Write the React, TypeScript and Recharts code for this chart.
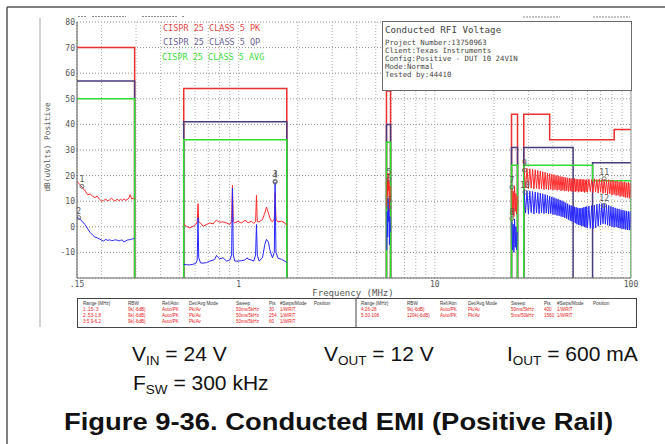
import React from "react";
import { CartesianGrid, ComposedChart, Line, Scatter, XAxis, YAxis } from "recharts";

const MONO = "'DejaVu Sans Mono', monospace";
const SANS = "'Liberation Sans', Arial, sans-serif";

// axis ticks
const freqTicks = [0.15, 0.2, 0.3, 0.4, 0.5, 0.6, 0.7, 0.8, 0.9, 1, 2, 3, 4, 5, 6, 7, 8, 9, 10, 20, 30, 40, 50, 60, 70, 80, 90, 100];
const labelledFreqs = [0.15, 1, 10, 100];
const freqTickLabels = [".15", "1", "10", "100"];
const levelTicks = [-20, -10, 0, 10, 20, 30, 40, 50, 60, 70, 80];

// CISPR 25 class 5 limit lines, one list of [MHz, dBuV] per band
const pkLimit = [
  [[0.15, 70], [0.295, 70], [0.295, -20]],
  [[0.525, -20], [0.525, 54], [1.76, 54], [1.76, -20]],
  [[5.67, -20], [5.67, 53], [5.95, 53], [5.95, -20]],
  [[24.6, -20], [24.6, 44], [26.4, 44], [26.4, -20]],
  [[28.4, -20], [28.4, 44], [38.5, 44], [38.5, 34], [82.1, 34], [82.1, 38], [100, 38]],
];
const qpLimit = [
  [[0.15, 57], [0.295, 57], [0.295, -20]],
  [[0.525, -20], [0.525, 41], [1.76, 41], [1.76, -20]],
  [[5.67, -20], [5.67, 40], [5.95, 40], [5.95, -20]],
  [[24.6, -20], [24.6, 31], [26.4, 31], [26.4, -20]],
  [[28.4, -20], [28.4, 31], [50.7, 31], [50.7, -20]],
  [[63.7, -20], [63.7, 25], [100, 25]],
];
const avgLimit = [
  [[0.15, 50], [0.295, 50], [0.295, -20]],
  [[0.525, -20], [0.525, 34], [1.76, 34], [1.76, -20]],
  [[5.67, -20], [5.67, 33], [5.95, 33], [5.95, -20]],
  [[24.6, -20], [24.6, 24], [26.4, 24], [26.4, -20]],
  [[28.4, -20], [28.4, 24], [63.7, 24], [63.7, 18], [100, 18], [100, -20]],
];

// measured traces (peak = red, average = blue)
const band1Freq = [0.15, 0.155, 0.16, 0.165, 0.17, 0.175, 0.18, 0.185, 0.19, 0.195, 0.2, 0.205, 0.21, 0.215, 0.22, 0.225, 0.23, 0.235, 0.24, 0.245, 0.25, 0.255, 0.26, 0.265, 0.27, 0.275, 0.28, 0.285, 0.29, 0.295];
const band1Pk = [17.7, 16.5, 15.3, 14.0, 12.5, 12.8, 12.0, 11.4, 12.0, 10.8, 10.0, 10.3, 10.8, 10.2, 10.5, 11.2, 10.4, 10.1, 10.8, 10.2, 10.7, 10.3, 10.9, 10.4, 10.6, 11.1, 12.6, 10.8, 11.2, 11.0];
const band1Avg = [3.8, 3.0, 2.0, 0.8, -0.8, -2.2, -3.2, -4.0, -4.3, -4.7, -5.2, -5.6, -4.9, -5.3, -5.1, -5.4, -5.3, -5.1, -5.2, -5.5, -5.3, -5.1, -5.9, -5.6, -5.2, -5.1, -5.0, -4.8, -4.7, -4.5];

const band2Freq = [0.525, 0.542, 0.563, 0.586, 0.604, 0.615, 0.621, 0.626, 0.639, 0.659, 0.686, 0.713, 0.741, 0.756, 0.771, 0.783, 0.801, 0.833, 0.867, 0.901, 0.921, 0.93, 0.939, 0.956, 0.993, 1.034, 1.075, 1.104, 1.117, 1.163, 1.194, 1.22, 1.233, 1.245, 1.271, 1.323, 1.359, 1.386, 1.419, 1.441, 1.47, 1.488, 1.52, 1.534, 1.55, 1.589, 1.653, 1.719, 1.76];
const band2Pk = [1.1, 0.2, -0.4, 0.2, 0.9, 2.0, 9.0, 2.0, 1.5, 0.2, 0.9, 1.5, 1.1, 2.0, 2.5, 2.2, 1.8, 1.9, 1.5, 0.9, 2.0, 16.2, 2.0, 1.5, 2.2, 1.5, 2.5, 2.0, 1.5, 2.2, 1.3, 2.0, 12.3, 2.0, 1.9, 2.8, 5.4, 7.7, 5.4, 3.5, 2.2, 2.0, 3.0, 13.3, 3.0, 1.9, 2.2, 1.5, 0.6];
const band2Avg = [-14.7, -14.8, -14.9, -14.6, -14.4, -13.0, 3.5, -12.0, -14.1, -14.2, -14.0, -13.4, -13.0, -12.7, -11.2, -11.8, -12.5, -12.1, -13.4, -13.0, -11.0, 15.1, -11.0, -13.4, -13.4, -13.2, -13.0, -12.1, -12.6, -13.0, -13.4, -11.0, 0.9, -11.0, -13.4, -12.1, -7.0, -4.9, -6.0, -8.8, -11.0, -12.1, -10.0, 17.4, -10.0, -12.3, -12.7, -13.4, -14.0];

const band3Freq = [5.69, 5.72, 5.75, 5.78, 5.81, 5.84, 5.87, 5.9, 5.93];
const band3Pk = [8, 19, 12, 21, 14, 18, 6, 16, 10];
const band3Avg = [-9, 6, -4, 11, 2, 7, -7, 4, -2];

const band4Freq = [24.7, 24.9, 25.1, 25.3, 25.5, 25.7, 25.9, 26.1, 26.3];
const band4Pk = [15, 5, 14, 4, 16, 6, 13, 5, 12];
const band4Avg = [2, -9, 1, -10, 3, -8, 0, -9, -2];

const band5Freq = [
  28.5, 29, 29.5, 30, 30.5, 31, 31.5, 32, 32.5, 33, 33.5, 34, 34.5, 35, 35.5, 36, 36.5, 37, 37.5, 38, 38.5, 39, 39.5, 40,
  40.5, 41, 41.5, 42, 42.5, 43, 43.5, 44, 44.5, 45, 45.5, 46, 46.5, 47, 47.5, 48, 48.5, 49, 49.5, 50, 50.5, 51, 51.5, 52,
  52.5, 53, 53.5, 54, 54.5, 55, 55.5, 56, 56.5, 57, 57.5, 58, 58.5, 59, 59.5, 60,
  61, 62, 63, 64, 65, 66, 67, 68, 69, 70, 71, 72, 73, 74, 75, 76, 77, 78, 79, 80,
  81, 82, 83, 84, 85, 86, 87, 88, 89, 90, 91, 92, 93, 94, 95, 96, 97, 98, 99, 100,
];
const band5Pk = [
  23.0, 15.2, 22.9, 14.9, 22.7, 15.1, 22.5, 14.8, 22.3, 15.0, 22.0, 14.7, 21.8, 14.9, 21.5, 14.5, 21.3, 14.8, 21.0, 14.4, 20.8, 14.6, 20.5, 14.3,
  20.4, 14.5, 20.1, 14.2, 20.0, 14.4, 19.7, 14.0, 19.6, 14.3, 19.4, 13.9, 19.3, 14.1, 19.1, 13.8, 19.0, 14.0, 18.9, 13.7, 18.8, 13.9, 18.9, 13.6,
  18.7, 13.9, 18.6, 13.5, 18.5, 13.8, 18.7, 13.6, 18.4, 13.8, 18.6, 13.4, 18.3, 13.7, 18.5, 13.5,
  18.6, 13.8, 18.4, 13.4, 18.8, 13.7, 18.5, 13.2, 18.7, 13.5, 18.4, 13.0, 18.6, 13.3, 18.2, 12.8, 18.4, 12.9, 18.0, 12.4,
  18.2, 12.6, 17.8, 12.2, 18.0, 12.3, 17.6, 11.8, 17.8, 12.0, 17.4, 11.6, 17.6, 11.4, 17.2, 11.5, 17.4, 11.1, 17.0, 11.2,
];
const band5Avg = [
  14.2, 5.4, 14.1, 5.1, 14.0, 5.5, 13.8, 5.0, 13.6, 5.4, 13.4, 5.1, 13.2, 5.5, 12.9, 5.2, 12.6, 5.4, 12.3, 5.0, 12.0, 5.2, 11.7, 4.8,
  11.4, 4.7, 11.1, 4.4, 10.8, 4.3, 10.5, 4.0, 10.2, 3.8, 9.8, 3.5, 9.4, 3.2, 9.0, 2.8, 8.6, 2.4, 8.3, 2.1, 8.0, 1.8, 7.8, 1.4,
  7.6, 1.0, 7.4, 0.8, 7.2, 0.6, 7.3, 0.4, 7.4, 0.2, 7.6, 0.0, 7.8, -0.3, 7.9, -0.5,
  8.1, -0.6, 8.3, -0.7, 8.5, -0.4, 8.8, 0.2, 9.0, 0.8, 9.1, 1.2, 9.0, 1.0, 8.7, 0.6, 8.4, 0.3, 8.0, 0.0,
  7.7, -0.2, 7.4, -0.1, 7.1, -0.4, 6.9, -0.6, 6.7, -0.8, 6.5, -0.9, 6.3, -1.1, 6.1, -1.2, 6.0, -1.3, 5.9, -1.4,
];

// numbered markers
const markerLabels = ["1", "2", "3", "4", "5", "6", "7", "8", "9", "10", "11", "12"];
const markerFreq = [0.159, 0.153, 1.534, 1.534, 5.83, 5.83, 24.7, 24.7, 28.6, 28.8, 73, 73];
const markerLevel = [15.8, 3.6, 17.8, 17.4, 18.6, 7.7, 15.5, 3.2, 22.1, 13.6, 18.8, 8.4];

const tableHeader = ["Range (MHz)", "RBW", "Ref/Attn", "Det/Avg Mode", "Sweep", "Pts", "#Swps/Mode", "Position"];
const tableLeftRows = [
  ["1:.15-.3", "9k(-6dB)", "Auto/PK", "Pk/Av", "50ms/5kHz", "30", "1/WRIT"],
  ["2:.53-1.8", "9k(-6dB)", "Auto/PK", "Pk/Av", "50ms/5kHz", "254", "1/WRIT"],
  ["3:5.9-6.2", "9k(-6dB)", "Auto/PK", "Pk/Av", "50ms/5kHz", "60", "1/WRIT"],
];
const tableRightRows = [
  ["4:26-28", "9k(-6dB)", "Auto/PK", "Pk/Av", "50ms/5kHz", "400", "1/WRIT"],
  ["5:30-108", "120k(-6dB)", "Auto/PK", "Pk/Av", "5ms/50kHz", "1560", "1/WRIT"],
];
const leftCols = [83, 128, 162, 189, 236, 269, 280, 314];
const rightCols = [361, 407, 440, 468, 511, 544, 557, 593];

type Pt = { f: number; v: number | null };

function segmentsToSeries(segments: number[][][]): Pt[] {
  const out: Pt[] = [];
  segments.forEach((seg, i) => {
    if (i > 0) {
      const prev = segments[i - 1][segments[i - 1].length - 1][0];
      out.push({ f: Math.sqrt(prev * seg[0][0]), v: null });
    }
    seg.forEach(([f, v]) => out.push({ f, v }));
  });
  return out;
}

function bandsToSeries(freqs: number[][], values: number[][]): Pt[] {
  return segmentsToSeries(freqs.map((fs, i) => fs.map((f, j) => [f, values[i][j]])));
}

const allFreqs = [band1Freq, band2Freq, band3Freq, band4Freq, band5Freq];
const pkTrace = bandsToSeries(allFreqs, [band1Pk, band2Pk, band3Pk, band4Pk, band5Pk]);
const avgTrace = bandsToSeries(allFreqs, [band1Avg, band2Avg, band3Avg, band4Avg, band5Avg]);
const markers = markerLabels.map((label, i) => ({ f: markerFreq[i], v: markerLevel[i], label }));

const XTick = (props: any) => {
  const { x, y, payload } = props;
  const idx = labelledFreqs.indexOf(payload.value);
  if (idx < 0) return <g />;
  return (
    <text x={x} y={y + 9} textAnchor="middle" fontFamily={MONO} fontSize={8} fill="#555">
      {freqTickLabels[idx]}
    </text>
  );
};

const YTick = (props: any) => {
  const { x, y, payload } = props;
  if (payload.value === -20) return <g />;
  return (
    <text x={x - 2} y={y + 3} textAnchor="end" fontFamily={MONO} fontSize={8} fill="#555">
      {payload.value}
    </text>
  );
};

const MarkerShape = (props: any) => {
  const { cx, cy, payload } = props;
  return (
    <g>
      <circle cx={cx} cy={cy} r={2} fill="none" stroke="#666" strokeWidth={0.9} />
      <text x={cx} y={cy - 4} textAnchor="middle" fontFamily={MONO} fontSize={8} fill="#555">
        {payload.label}
      </text>
    </g>
  );
};

function Overlay() {
  return (
    <svg width={665} height={444} style={{ position: "absolute", left: 0, top: 0, pointerEvents: "none" }}>
      {/* window frame */}
      <line x1={7} y1={7} x2={665} y2={7} stroke="#555" strokeWidth={1.5} />
      <line x1={7} y1={7} x2={7} y2={444} stroke="#555" strokeWidth={1.5} />
      <line x1={40} y1={18} x2={40} y2={327} stroke="#c4c4c4" strokeWidth={1.5} />
      {/* clipped header text */}
      <g stroke="#8a8a8a" strokeWidth={1.2} strokeDasharray="2 1">
        <line x1={78} y1={16.5} x2={87} y2={16.5} />
        <line x1={92} y1={16.5} x2={126} y2={16.5} />
        <line x1={142} y1={16.5} x2={177} y2={16.5} />
        <line x1={182} y1={16.5} x2={185} y2={16.5} />
        <line x1={523} y1={17} x2={560} y2={17} />
        <line x1={593} y1={17} x2={630} y2={17} />
      </g>
      {/* plot right border */}
      <line x1={631} y1={22} x2={631} y2={278} stroke="#9a9a9a" strokeWidth={1} />
      {/* legend */}
      <g fontFamily={MONO} fontSize={8.5}>
        <text x={163} y={31.3} fill="#e24848">CISPR 25 CLASS 5 PK</text>
        <text x={163} y={45.4} fill="#6d5f9c">CISPR 25 CLASS 5 QP</text>
        <text x={162} y={59.8} fill="#3ee03e">CISPR 25 CLASS 5 AVG</text>
      </g>
      {/* info box */}
      <rect x={382.5} y={21.5} width={249} height={69} fill="#fff" stroke="#6a6a6a" strokeWidth={1} />
      <g fontFamily={MONO} fill="#444">
        <text x={385} y={33.3} fontSize={9.2}>Conducted RFI Voltage</text>
        <text x={385} y={45} fontSize={7.35}>Project Number:13750963</text>
        <text x={385} y={53.3} fontSize={7.35}>Client:Texas Instruments</text>
        <text x={385} y={61} fontSize={7.35}>Config:Positive - DUT 10 24VIN</text>
        <text x={385} y={69} fontSize={7.35}>Mode:Normal</text>
        <text x={385} y={76.8} fontSize={7.35}>Tested by:44410</text>
      </g>
      {/* axis titles */}
      <text x={48} y={147} transform="rotate(-90 48 147)" textAnchor="middle" dominantBaseline="middle" fontFamily={MONO} fontSize={7.8} fill="#555">
        dB(uVolts) Positive
      </text>
      <text x={353} y={296} textAnchor="middle" fontFamily={MONO} fontSize={9} fill="#555">
        Frequency (MHz)
      </text>
      {/* scan settings table */}
      <rect x={77.5} y={298.5} width={559} height={29} fill="none" stroke="#444" strokeWidth={1} />
      <line x1={356} y1={298.5} x2={356} y2={327.5} stroke="#444" strokeWidth={1} />
      <g fontFamily={SANS} fontSize={4.6}>
        {tableHeader.map((h, i) => (
          <text key={"lh" + i} x={leftCols[i]} y={305} fill="#333">{h}</text>
        ))}
        {tableHeader.map((h, i) => (
          <text key={"rh" + i} x={rightCols[i]} y={305} fill="#333">{h}</text>
        ))}
        {tableLeftRows.map((row, r) =>
          row.map((c, i) => (
            <text key={"l" + r + i} x={leftCols[i]} y={311 + r * 5.8} fill="#e82020">{c}</text>
          ))
        )}
        {tableRightRows.map((row, r) =>
          row.map((c, i) => (
            <text key={"r" + r + i} x={rightCols[i]} y={311 + r * 5.8} fill="#e82020">{c}</text>
          ))
        )}
      </g>
      {/* conditions and caption */}
      <g fontFamily={SANS} fill="#111">
        <text x={132} y={361} fontSize={21}>
          V<tspan fontSize={13.5} dy={4}>IN</tspan>
          <tspan dy={-4}> = 24 V</tspan>
        </text>
        <text x={324} y={361} fontSize={21}>
          V<tspan fontSize={13.5} dy={4}>OUT</tspan>
          <tspan dy={-4}> = 12 V</tspan>
        </text>
        <text x={507} y={361} fontSize={21}>
          I<tspan fontSize={13.5} dy={4}>OUT</tspan>
          <tspan dy={-4}> = 600 mA</tspan>
        </text>
        <text x={133} y={390} fontSize={21}>
          F<tspan fontSize={13.5} dy={4}>SW</tspan>
          <tspan dy={-4}> = 300 kHz</tspan>
        </text>
        <text x={64} y={430} fontSize={24} fontWeight="bold" textLength={549} lengthAdjust="spacingAndGlyphs">
          Figure 9-36. Conducted EMI (Positive Rail)
        </text>
      </g>
    </svg>
  );
}

export default function App() {
  return (
    <div style={{ position: "absolute", left: 0, top: 0, width: 665, height: 444, background: "#fff", overflow: "hidden" }}>
      <div style={{ position: "absolute", left: 0, top: 0 }}>
        <ComposedChart width={665} height={300} margin={{ top: 22, right: 34, bottom: 8, left: 37 }}>
          <CartesianGrid vertical={false} stroke="#8c8c8c" strokeDasharray="1 2" />
          <CartesianGrid horizontal={false} stroke="#b0b0b0" strokeDasharray="1 2" />
          <XAxis
            type="number"
            dataKey="f"
            scale="log"
            domain={[0.15, 100]}
            ticks={freqTicks}
            interval={0}
            allowDataOverflow
            height={14}
            tickSize={0}
            tickMargin={0}
            tickLine={false}
            axisLine={{ stroke: "#6a6a6a" }}
            tick={(p: any) => <XTick {...p} />}
          />
          <YAxis
            type="number"
            dataKey="v"
            domain={[-20, 80]}
            ticks={levelTicks}
            interval={0}
            width={40}
            tickSize={0}
            tickMargin={0}
            tickLine={false}
            axisLine={{ stroke: "#555" }}
            tick={(p: any) => <YTick {...p} />}
          />
          <Line data={segmentsToSeries(pkLimit)} dataKey="v" stroke="#ec2f2f" strokeWidth={1.5} dot={false} activeDot={false} isAnimationActive={false} />
          <Line data={segmentsToSeries(qpLimit)} dataKey="v" stroke="#4a3b7c" strokeWidth={1.5} dot={false} activeDot={false} isAnimationActive={false} />
          <Line data={segmentsToSeries(avgLimit)} dataKey="v" stroke="#2ee02e" strokeWidth={1.5} dot={false} activeDot={false} isAnimationActive={false} />
          <Line data={pkTrace} dataKey="v" stroke="#ff2a2a" strokeWidth={1} dot={false} activeDot={false} isAnimationActive={false} />
          <Line data={avgTrace} dataKey="v" stroke="#2626ff" strokeWidth={1} dot={false} activeDot={false} isAnimationActive={false} />
          <Scatter data={markers} dataKey="v" shape={(p: any) => <MarkerShape {...p} />} isAnimationActive={false} />
        </ComposedChart>
      </div>
      <Overlay />
    </div>
  );
}
